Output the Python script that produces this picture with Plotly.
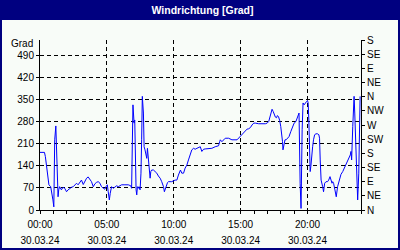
import plotly.graph_objects as go
import pandas as pd

DAY = "2024-03-30"
TITLE = "Windrichtung [Grad]"
UNIT_LABEL = "Grad"
DATE_LABEL = "30.03.24"

# minutes after midnight and wind direction in degrees
minutes = [0, 20, 24, 29, 36, 40, 48, 54, 58, 62, 63, 66, 71, 73, 76, 81, 84, 88, 96, 103,
           111, 119, 126, 134, 141, 149, 156, 164, 171, 179, 186, 194, 201, 209, 216, 224, 231, 239, 246, 254,
           261, 269, 276, 284, 291, 296, 302, 306, 311, 315, 321, 329, 336, 344, 351, 359,
           366, 381, 396, 407, 411, 417, 422, 425, 428, 431, 434, 437, 441, 444, 449, 453, 456, 459, 464, 467,
           471, 476, 479, 482, 486, 489, 494, 497, 501, 509, 516, 524, 531, 539, 546, 554, 558, 561, 566, 572,
           576, 591, 606, 614, 621, 626, 630, 636, 644, 651, 659, 666, 674, 681, 689, 696, 704, 711, 719,
           726, 734, 741, 756, 771, 786, 801, 806, 809, 816, 824, 831, 846, 854, 861, 884, 891, 899, 906, 914,
           921, 929, 936, 944, 951, 959, 966, 981, 1011, 1019, 1026, 1031, 1037, 1041, 1046, 1051, 1056, 1061,
           1065, 1070, 1075, 1080, 1083, 1088, 1090, 1095, 1099, 1104, 1110, 1117, 1125, 1133, 1140, 1148, 1155,
           1162, 1167, 1171, 1176, 1180, 1185, 1189, 1196, 1200, 1203, 1206, 1209, 1212, 1215, 1218, 1223, 1227,
           1232, 1238, 1245, 1251, 1254, 1257, 1261, 1268, 1272, 1277, 1283, 1290, 1295, 1301, 1305, 1310, 1313,
           1317, 1323, 1329, 1335, 1340, 1344, 1350, 1358, 1365, 1373, 1380, 1387, 1392, 1395, 1398, 1403, 1406,
           1409, 1412, 1416, 1421, 1425, 1430, 1432, 1436]
degrees = [183, 183, 170, 138, 106, 80, 74, 53, 32, 10, 42, 223, 267, 223, 170, 42, 64, 74, 64, 72,
           69, 58, 64, 69, 72, 74, 80, 85, 80, 90, 95, 81, 90, 101, 105, 95, 90, 74, 83, 88,
           90, 85, 74, 69, 66, 74, 80, 58, 32, 53, 74, 69, 74, 77, 74, 76,
           80, 80, 80, 77, 69, 334, 276, 286, 117, 64, 48, 74, 69, 74, 64, 117, 223, 361, 308, 201,
           191, 170, 164, 196, 159, 127, 101, 122, 127, 127, 122, 117, 108, 101, 90, 74, 58, 64, 80, 87,
           90, 90, 95, 95, 111, 122, 127, 117, 117, 133, 143, 159, 175, 191, 196, 193, 196, 199, 201,
           186, 193, 194, 194, 196, 201, 204, 217, 223, 217, 223, 228, 228, 225, 223, 223, 228, 233, 239, 244,
           252, 257, 258, 262, 270, 276, 276, 274, 274, 276, 281, 297, 313, 320, 313, 305, 295, 293,
           300, 296, 285, 265, 249, 217, 191, 212, 223, 223, 228, 233, 249, 265, 276, 281, 292,
           308, 85, 5, 255, 340, 334, 340, 345, 348, 340, 286, 201, 122, 138, 170, 201, 223,
           239, 242, 242, 239, 228, 159, 95, 74, 58, 85, 90, 90, 95, 106, 95, 85, 90,
           85, 64, 42, 74, 85, 95, 113, 122, 133, 148, 159, 172, 175, 186, 159, 265, 308,
           361, 308, 201, 95, 32, 117, 276, 361]

tick_hours = [0, 5, 10, 15, 20]
time_labels = ["00:00", "05:00", "10:00", "15:00", "20:00"]
left_ticks = [0, 70, 140, 210, 280, 350, 420, 490]
compass_vals = [0, 45, 90, 135, 180, 225, 270, 315, 360, 405, 450, 495, 540]
compass_labels = ["N", "NE", "E", "SE", "S", "SW", "W", "NW", "N", "NE", "E", "SE", "S"]
Y_MAX = 540

base = pd.Timestamp(DAY)
times = [base + pd.Timedelta(minutes=m) for m in minutes]
tickpos = [base + pd.Timedelta(hours=h) for h in tick_hours]
x_range = [base, base + pd.Timedelta(hours=24)]

W, H = 400, 250
L, R, T, B = 40, 39, 40, 40
PW, PH = W - L - R, H - T - B
NAVY = "#000080"
BG = "#F8FCF8"
FONT = "Liberation Sans"
tickfont = dict(family=FONT, size=10, color="black")


def px_x(p):
    return (p - L) / PW


def px_y(p):
    return (H - B - p) / PH


fig = go.Figure()
fig.add_trace(go.Scatter(x=times, y=degrees, mode="lines",
                         line=dict(color="#0000FF", width=1),
                         hoverinfo="skip", showlegend=False))
# empty helper traces so that the secondary axes (date line, compass scale) are drawn
fig.add_trace(go.Scatter(x=[], y=[], xaxis="x2", yaxis="y", showlegend=False, hoverinfo="skip"))
fig.add_trace(go.Scatter(x=[], y=[], xaxis="x", yaxis="y2", showlegend=False, hoverinfo="skip"))

grid = dict(showgrid=True, gridcolor="black", gridwidth=1, griddash="4px,3px")

fig.update_layout(
    width=W, height=H, margin=dict(l=L, r=R, t=T, b=B, pad=0, autoexpand=False),
    paper_bgcolor=BG, plot_bgcolor=BG,
    title=dict(text="<b>" + TITLE + "</b>", x=202.5 / W, xanchor="center",
               y=1 - 10 / H, yanchor="middle",
               font=dict(family=FONT, size=10.5, color="white")),
    xaxis=dict(type="date", range=x_range, tickmode="array", tickvals=tickpos, ticktext=time_labels,
               ticks="outside", ticklen=3, tickcolor="black", showline=True, linecolor="black",
               linewidth=1, zeroline=False, tickfont=tickfont, ticklabelstandoff=2, automargin=False,
               minor=dict(tickmode="linear", tick0=base, dtick=3600000, ticks="outside",
                          ticklen=3, tickcolor="black", showgrid=False),
               **grid),
    xaxis2=dict(type="date", range=x_range, overlaying="x", anchor="y", side="bottom",
                tickmode="array", tickvals=tickpos, ticktext=[DATE_LABEL] * len(tickpos),
                showgrid=False, showline=False, ticks="", zeroline=False, automargin=False,
                tickfont=tickfont, ticklabelstandoff=23),
    yaxis=dict(range=[0, Y_MAX], tickmode="array", tickvals=left_ticks,
               ticks="outside", ticklen=3, tickcolor="black", showline=True, linecolor="black",
               linewidth=1, zeroline=False, tickfont=tickfont, automargin=False, **grid),
    yaxis2=dict(range=[0, Y_MAX], overlaying="y", anchor="x", side="right",
                tickmode="array", tickvals=compass_vals, ticktext=compass_labels,
                ticks="outside", ticklen=3, tickcolor="black", showline=True, linecolor="black",
                linewidth=1, showgrid=False, zeroline=False, tickfont=tickfont, automargin=False),
    annotations=[dict(text=UNIT_LABEL, xref="paper", yref="paper", x=0, y=1, xanchor="right",
                      yanchor="middle", xshift=-5, yshift=-3, showarrow=False, font=tickfont)],
    shapes=[
        dict(type="rect", xref="paper", yref="paper", x0=px_x(0), x1=px_x(W), y0=px_y(20), y1=px_y(0),
             fillcolor=NAVY, line=dict(width=0), layer="above"),
        dict(type="rect", xref="paper", yref="paper", x0=px_x(0), x1=px_x(2), y0=px_y(H), y1=px_y(0),
             fillcolor=NAVY, line=dict(width=0), layer="above"),
        dict(type="rect", xref="paper", yref="paper", x0=px_x(W - 2), x1=px_x(W), y0=px_y(H), y1=px_y(0),
             fillcolor=NAVY, line=dict(width=0), layer="above"),
        dict(type="rect", xref="paper", yref="paper", x0=px_x(0), x1=px_x(W), y0=px_y(H), y1=px_y(H - 2),
             fillcolor=NAVY, line=dict(width=0), layer="above"),
    ],
)

fig.write_html("out.html", config={"displayModeBar": False})
